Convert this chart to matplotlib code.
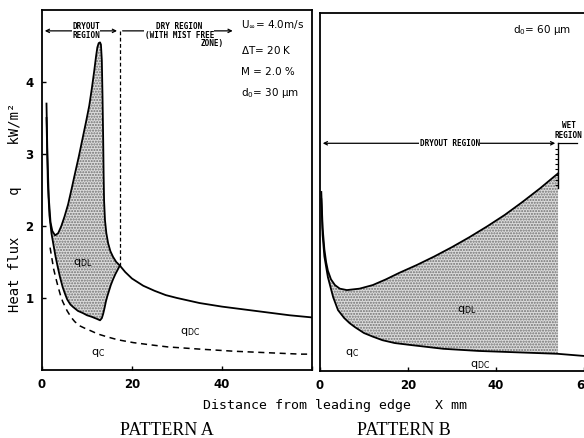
import matplotlib
matplotlib.use('Agg')
import matplotlib.pyplot as plt
import numpy as np

# データ (PATTERN A)
a_upper_x = [1.0, 1.2, 1.5, 1.9, 2.3, 2.9, 3.6, 4.3, 5.0, 5.8, 6.6, 7.3, 8.2, 9.1, 9.8, 10.5,
             11.1, 11.6, 12.0, 12.3, 12.6, 12.9, 13.1, 13.3, 13.45, 13.6, 13.7, 13.8, 14.0,
             14.3, 14.7, 15.2, 15.8, 16.5, 17.3, 18.5, 20, 22.5, 25, 27.5, 30, 35, 40, 45, 50, 55, 60]
a_upper_y = [3.7, 3.0, 2.4, 2.05, 1.93, 1.87, 1.9, 2.0, 2.13, 2.3, 2.52, 2.72, 2.97, 3.24, 3.45, 3.67,
             3.92, 4.15, 4.35, 4.48, 4.54, 4.55, 4.52, 4.3, 3.8, 3.2, 2.7, 2.35, 2.08,
             1.9, 1.76, 1.65, 1.57, 1.5, 1.45, 1.36, 1.27, 1.17, 1.1, 1.04, 1.0, 0.93, 0.88, 0.84, 0.8, 0.76, 0.73]
a_lower_x = [1.0, 1.3, 1.65, 2.1, 2.6, 3.0, 3.5, 4.0, 4.6, 5.1, 5.6, 6.3, 7.0, 8.0, 9.1, 10.0,
             11.0, 12.2, 12.9, 13.3, 13.6, 13.9, 14.2, 14.5, 14.9, 15.3, 15.8, 16.3, 16.8, 17.3]
a_lower_y = [3.5, 2.6, 2.15, 1.9, 1.72, 1.58, 1.43, 1.29, 1.15, 1.06, 0.98, 0.91, 0.87, 0.82, 0.79, 0.76,
             0.74, 0.71, 0.69, 0.72, 0.78, 0.86, 0.95, 1.02, 1.1, 1.18, 1.26, 1.33, 1.39, 1.45]
a_qc_x = [1.8, 2.2, 2.6, 3.1, 3.6, 4.1, 4.6, 5.6, 6.5, 7.3, 8.5, 9.5, 11, 12.4, 14.5, 16.8,
          20.3, 24, 28, 35, 42.8, 50, 57.5, 60]
a_qc_y = [1.7, 1.55, 1.4, 1.27, 1.15, 1.04, 0.95, 0.82, 0.73, 0.67, 0.61, 0.58, 0.54, 0.5, 0.46, 0.42,
          0.38, 0.35, 0.32, 0.29, 0.26, 0.24, 0.22, 0.22]
a_boundary = 17.3

# データ (PATTERN B)
b_upper_x = [0.3, 0.6, 1.0, 1.4, 1.8, 2.5, 3.4, 4.5, 6.1, 9, 12, 15, 18, 22, 26, 30, 34, 38,
             42, 46, 50, 54.1]
b_upper_y = [2.5, 2.0, 1.7, 1.52, 1.40, 1.28, 1.20, 1.15, 1.13, 1.15, 1.20, 1.28, 1.37, 1.48, 1.60,
             1.73, 1.87, 2.02, 2.18, 2.36, 2.55, 2.76]
b_lower_x = [0.3, 0.6, 1.0, 1.8, 3.0, 4.1, 5.5, 6.7, 8, 10, 12, 14.2, 17, 21, 28, 36, 45, 54, 60]
b_lower_y = [2.4, 1.9, 1.6, 1.31, 1.03, 0.85, 0.74, 0.67, 0.61, 0.53, 0.48, 0.43, 0.39, 0.36, 0.31,
             0.28, 0.26, 0.24, 0.21]
b_wet = 54.1

xticks = [0, 20, 40, 60]
yticks = [1, 2, 3, 4]

fig = plt.figure(figsize=(5.84, 4.38), dpi=100)
axA = fig.add_axes([0.0719, 0.1553, 0.4623, 0.8219])
axB = fig.add_axes([0.5479, 0.1530, 0.4521, 0.8174])

mono = 'DejaVu Sans Mono'
shade = dict(facecolor='#dcdcdc', hatch='......', edgecolor='#707070', linewidth=0)

# 軸の共通設定
for ax in (axA, axB):
    ax.set_xlim(0, 60)
    ax.set_ylim(0, 5)
    ax.set_xticks(xticks)
    ax.tick_params(direction='in', length=3, width=1, pad=6)
    for s in ax.spines.values():
        s.set_linewidth(1.3)
    for lab in ax.get_xticklabels():
        lab.set_fontweight('bold')
        lab.set_fontsize(8.5)

axA.set_xticklabels(['0', '20', '40', ''])
axA.set_yticks(yticks)
axA.set_yticklabels([str(v) for v in yticks], fontsize=8.5, fontweight='bold')
axB.set_yticks([])
axB.spines['right'].set_visible(False)

# PATTERN A
g = np.linspace(a_lower_x[0] + 0.65, a_boundary, 600)
axA.fill_between(g, np.interp(g, a_lower_x, a_lower_y), np.interp(g, a_upper_x, a_upper_y), **shade)
axA.plot(a_upper_x, a_upper_y, color='black', lw=1.3)
axA.plot(a_lower_x, a_lower_y, color='black', lw=1.3)
axA.plot(a_qc_x, a_qc_y, color='black', lw=1.1, ls=(0, (4, 3)))
axA.plot([a_boundary, a_boundary], [1.45, 4.71], color='black', lw=0.9, ls=(0, (3, 2)))

# 領域の矢印
axA.annotate('', xy=(0, 4.71), xytext=(a_boundary, 4.71),
             arrowprops=dict(arrowstyle='<->', lw=0.9, mutation_scale=6))
axA.annotate('', xy=(a_boundary, 4.71), xytext=(43, 4.71),
             arrowprops=dict(arrowstyle='<-', lw=0.9, mutation_scale=6))
box = dict(facecolor='white', edgecolor='none', pad=0.3)
axA.text(9.8, 4.71, 'DRYOUT\nREGION', ha='center', va='center', fontsize=5.5,
         fontweight='bold', family=mono, linespacing=1.05, bbox=box)
axA.text(30.5, 4.71, 'DRY REGION\n(WITH MIST FREE', ha='center', va='center', fontsize=5.5,
         fontweight='bold', family=mono, linespacing=1.05, bbox=box)
axA.text(40.5, 4.54, 'ZONE)', ha='right', va='center', fontsize=5.5, fontweight='bold', family=mono)

axA.text(44.2, 4.79, r'U$_\infty$= 4.0m/s', fontsize=7.5, va='center')
axA.text(44.2, 4.44, r'$\Delta$T= 20 K', fontsize=7.5, va='center')
axA.text(44.2, 4.14, 'M = 2.0 %', fontsize=7.5, va='center')
axA.text(44.2, 3.85, r'd$_0$= 30 µm', fontsize=7.5, va='center')

axA.text(9.1, 1.49, r'q$_{\rm DL}$', fontsize=8, ha='center', va='center')
axA.text(32.9, 0.53, r'q$_{\rm DC}$', fontsize=8, ha='center', va='center')
axA.text(12.4, 0.24, r'q$_{\rm C}$', fontsize=8, ha='center', va='center')

# PATTERN B
g = np.linspace(1.0, b_wet, 600)
axB.fill_between(g, np.interp(g, b_lower_x, b_lower_y), np.interp(g, b_upper_x, b_upper_y), **shade)
axB.plot(b_upper_x, b_upper_y, color='black', lw=1.3)
axB.plot(b_lower_x, b_lower_y, color='black', lw=1.3)

axB.annotate('', xy=(0, 3.18), xytext=(b_wet, 3.18),
             arrowprops=dict(arrowstyle='<->', lw=0.9, mutation_scale=6))
axB.plot([b_wet, 58.5], [3.18, 3.18], color='black', lw=0.9)
axB.plot([b_wet, b_wet], [2.55, 3.18], color='black', lw=1.0)
axB.plot([b_wet] * 8, np.linspace(2.6, 3.1, 8), ls='none', marker=0, ms=2.5, color='black', mew=0.8)
axB.text(29.5, 3.18, 'DRYOUT REGION', ha='center', va='center', fontsize=5.5,
         fontweight='bold', family=mono, bbox=box)
axB.text(56.5, 3.36, 'WET\nREGION', ha='center', va='center', fontsize=5.5,
         fontweight='bold', family=mono, linespacing=1.05)
axB.text(43.9, 4.76, r'd$_0$= 60 µm', fontsize=7.5, va='center')

axB.text(33.4, 0.85, r'q$_{\rm DL}$', fontsize=8, ha='center', va='center')
axB.text(7.3, 0.25, r'q$_{\rm C}$', fontsize=8, ha='center', va='center')
axB.text(36.4, 0.08, r'q$_{\rm DC}$', fontsize=8, ha='center', va='center')

# ラベル
fig.text(0.574, 0.075, 'Distance from leading edge   X mm', ha='center', va='center',
         fontsize=9.5, family=mono)
fig.text(0.026, 0.527, 'Heat flux     q     kW/m²', rotation=90, ha='center', va='center',
         fontsize=10, family=mono)
fig.text(0.286, 0.018, 'PATTERN A', ha='center', va='center', fontsize=13, family='Liberation Serif')
fig.text(0.692, 0.018, 'PATTERN B', ha='center', va='center', fontsize=13, family='Liberation Serif')

fig.savefig('out.png', dpi=100)
